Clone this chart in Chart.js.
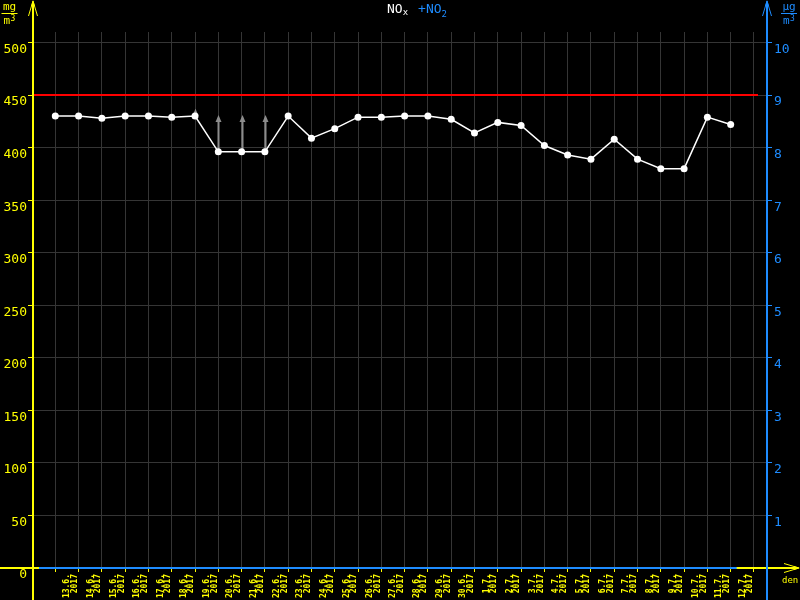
<!DOCTYPE html>
<html>
<head>
<meta charset="utf-8">
<script src="https://cdn.jsdelivr.net/npm/chart.js@4/dist/chart.umd.min.js"></script>
<style>
  html, body { margin: 0; padding: 0; background: #000; }
</style>
</head>
<body>
<canvas id="chart" width="800" height="600"></canvas>
<script>
// day labels (x axis), one measurement per day
var DAYS = ['13.6.', '14.6.', '15.6.', '16.6.', '17.6.', '18.6.', '19.6.', '20.6.', '21.6.', '22.6.',
  '23.6.', '24.6.', '25.6.', '26.6.', '27.6.', '28.6.', '29.6.', '30.6.',
  '1.7.', '2.7.', '3.7.', '4.7.', '5.7.', '6.7.', '7.7.', '8.7.', '9.7.', '10.7.', '11.7.', '12.7.'];
var YEAR = '2017';

// NOx, mg/m3
var NOX = [430, 430, 428, 430, 430, 429, 430, 396, 396, 396,
  430, 409, 418, 429, 429, 430, 430, 427,
  414, 424, 421, 402, 393, 389, 408, 389, 380, 380, 429, 422];

// grey arrows (where they end), null = no arrow
var NOX_ARROW_TOP = [null, null, null, null, null, null, 437, 431, 431, 431,
  null, null, null, null, null, null, null, null,
  null, null, null, null, null, null, null, null, null, null, null, null];

var LIMIT = 450;

var LEFT_MAX = 510;   // mg/m3
var RIGHT_MAX = 10.2; // ug/m3

var YELLOW = '#ffff00';
var BLUE = '#1e8cff';
var GRID = '#353535';
var MONO = 'DejaVu Sans Mono';

function arrowUp(ctx, x, y, color) {
  ctx.strokeStyle = color;
  ctx.lineWidth = 1;
  ctx.beginPath();
  ctx.moveTo(x - 4.5, y + 16);
  ctx.lineTo(x, y + 1);
  ctx.lineTo(x + 4.5, y + 16);
  ctx.stroke();
  ctx.fillStyle = color;
  ctx.beginPath();
  ctx.moveTo(x, y);
  ctx.lineTo(x - 2, y + 6);
  ctx.lineTo(x + 2, y + 6);
  ctx.closePath();
  ctx.fill();
}

var decor = {
  id: 'decor',
  beforeDatasetsDraw: function(chart) {
    var ctx = chart.ctx, a = chart.chartArea;
    var sx = chart.scales.x, sy = chart.scales.y;
    ctx.save();
    // limit line
    var ly = sy.getPixelForValue(LIMIT);
    ctx.strokeStyle = '#ff0000';
    ctx.lineWidth = 2;
    ctx.beginPath();
    ctx.moveTo(a.left, ly);
    ctx.lineTo(a.right - 9, ly);
    ctx.stroke();
    // grey arrows
    NOX_ARROW_TOP.forEach(function(top, i) {
      if (top == null) return;
      var x = Math.round(sx.getPixelForValue(i)) + 0.5;
      var y0 = sy.getPixelForValue(NOX[i]);
      var y1 = sy.getPixelForValue(top);
      ctx.strokeStyle = '#8c8c8c';
      ctx.fillStyle = '#8c8c8c';
      ctx.lineWidth = 2;
      ctx.beginPath();
      ctx.moveTo(x, y0);
      ctx.lineTo(x, y1 + 4);
      ctx.stroke();
      ctx.beginPath();
      ctx.moveTo(x, y1);
      ctx.lineTo(x - 3, y1 + 7);
      ctx.lineTo(x + 3, y1 + 7);
      ctx.closePath();
      ctx.fill();
    });
    ctx.restore();
  },
  afterDraw: function(chart) {
    var ctx = chart.ctx, a = chart.chartArea;
    var sx = chart.scales.x;
    var W = chart.width, H = chart.height;
    ctx.save();

    // axes lines
    ctx.lineWidth = 2;
    ctx.strokeStyle = YELLOW;
    ctx.beginPath();
    ctx.moveTo(a.left, 2); ctx.lineTo(a.left, H);
    ctx.moveTo(0, a.bottom); ctx.lineTo(W - 2, a.bottom);
    ctx.stroke();
    ctx.strokeStyle = BLUE;
    ctx.beginPath();
    ctx.moveTo(a.left + 6, a.bottom);
    ctx.lineTo(sx.getPixelForValue(DAYS.length - 1) + 6, a.bottom);
    ctx.moveTo(a.right, 2); ctx.lineTo(a.right, H);
    ctx.stroke();

    arrowUp(ctx, a.left, 0, YELLOW);
    arrowUp(ctx, a.right, 0, BLUE);

    // x axis arrow
    ctx.strokeStyle = YELLOW;
    ctx.lineWidth = 1;
    ctx.beginPath();
    ctx.moveTo(W - 16, a.bottom - 4.5);
    ctx.lineTo(W - 1, a.bottom);
    ctx.lineTo(W - 16, a.bottom + 4.5);
    ctx.stroke();
    ctx.fillStyle = YELLOW;
    ctx.beginPath();
    ctx.moveTo(W, a.bottom);
    ctx.lineTo(W - 6, a.bottom - 2);
    ctx.lineTo(W - 6, a.bottom + 2);
    ctx.closePath();
    ctx.fill();

    // title
    ctx.textBaseline = 'alphabetic';
    ctx.textAlign = 'left';
    ctx.font = '13px ' + MONO;
    ctx.fillStyle = '#ffffff';
    var tx = 387;
    ctx.fillText('NO', tx, 13);
    tx += ctx.measureText('NO').width;
    ctx.font = '9px ' + MONO;
    ctx.fillText('x', tx, 15);
    tx += ctx.measureText('x').width + 10;
    ctx.font = '13px ' + MONO;
    ctx.fillStyle = BLUE;
    ctx.fillText('+NO', tx, 13);
    tx += ctx.measureText('+NO').width;
    ctx.font = '9px ' + MONO;
    ctx.fillText('2', tx, 17);

    // units
    function unit(cx, top, color) {
      ctx.fillStyle = color;
      ctx.strokeStyle = color;
      ctx.textAlign = 'center';
      ctx.font = '11px ' + MONO;
      ctx.fillText(top, cx, 10);
      ctx.lineWidth = 1;
      ctx.beginPath();
      ctx.moveTo(cx - 8, 13.5);
      ctx.lineTo(cx + 8, 13.5);
      ctx.stroke();
      ctx.textAlign = 'left';
      ctx.fillText('m', cx - 6, 24);
      ctx.font = '8px ' + MONO;
      ctx.fillText('3', cx + 1, 21);
    }
    unit(9.5, 'mg', YELLOW);
    unit(789, '\u00b5g', BLUE);

    ctx.fillStyle = YELLOW;
    ctx.textAlign = 'left';
    ctx.font = '9px ' + MONO;
    ctx.fillText('den', 782, 583);
    ctx.restore();
  }
};

new Chart(document.getElementById('chart'), {
  type: 'line',
  data: {
    datasets: [{
      label: 'NOx',
      data: NOX.map(function(v, i) { return { x: i, y: v }; }),
      yAxisID: 'y',
      borderColor: '#ffffff',
      borderWidth: 1.5,
      pointRadius: 3.5,
      pointBorderWidth: 0,
      pointBackgroundColor: '#ffffff',
      tension: 0
    }]
  },
  options: {
    responsive: false,
    animation: false,
    layout: { padding: { top: 32 } },
    plugins: {
      legend: { display: false },
      title: { display: false },
      tooltip: { enabled: false }
    },
    scales: {
      x: {
        type: 'linear',
        min: -0.957,
        max: 30.56,
        afterFit: function(s) { s.height = 32; },
        border: { display: false },
        grid: { color: GRID, tickColor: YELLOW, tickLength: 4 },
        ticks: {
          stepSize: 1,
          includeBounds: false,
          autoSkip: false,
          minRotation: 90,
          maxRotation: 90,
          padding: 2,
          labelOffset: 12,
          color: YELLOW,
          font: { family: MONO, size: 8, weight: 'bold', lineHeight: 0.95 },
          callback: function(v) { return DAYS[v] ? [DAYS[v], YEAR] : ''; }
        }
      },
      y: {
        position: 'left',
        min: 0,
        max: LEFT_MAX,
        afterFit: function(s) { s.width = 33; },
        border: { display: false },
        grid: { color: GRID, tickColor: YELLOW, tickLength: 5 },
        ticks: {
          stepSize: 50,
          includeBounds: false,
          padding: 1,
          labelOffset: 7,
          color: YELLOW,
          font: { family: MONO, size: 13 }
        }
      },
      y2: {
        position: 'right',
        min: 0,
        max: RIGHT_MAX,
        afterFit: function(s) { s.width = 33; },
        border: { display: false },
        grid: { drawOnChartArea: false, tickColor: BLUE, tickLength: 5 },
        ticks: {
          stepSize: 1,
          includeBounds: false,
          padding: 2,
          labelOffset: 7,
          color: BLUE,
          font: { family: MONO, size: 13 },
          callback: function(v) { return v > 0 ? v : ''; }
        }
      }
    }
  },
  plugins: [decor]
});
</script>
</body>
</html>
